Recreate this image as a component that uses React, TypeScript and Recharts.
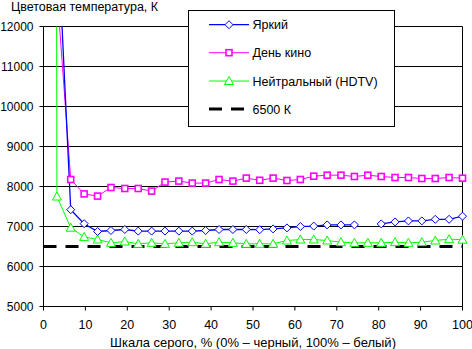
import { CartesianGrid, Legend, Line, LineChart, ReferenceLine, XAxis, YAxis } from "recharts";

const FONT = '"Liberation Sans", Arial, sans-serif';

// gray level, % (32 steps from black to white)
const grayLevels = [
  0, 3.2, 6.5, 9.7, 12.9, 16.1, 19.4, 22.6, 25.8, 29.0, 32.3, 35.5, 38.7, 41.9, 45.2, 48.4,
  51.6, 54.8, 58.1, 61.3, 64.5, 67.7, 71.0, 74.2, 77.4, 80.6, 83.9, 87.1, 90.3, 93.5, 96.8, 100,
];

// colour temperature, K (first points are far above the chart)
const brightTemps = [
  null, 14700, 7420, 7070, 6875, 6900, 6925, 6885, 6885, 6885, 6885, 6885, 6900, 6925, 6925, 6925,
  6920, 6940, 6965, 7000, 7010, 7040, 7040, 7040, null, 7065, 7115, 7140, 7140, 7180, 7180, 7258,
];
const cinemaTemps = [
  null, 12900, 8175, 7815, 7760, 7975, 7950, 7950, 7885, 8110, 8135, 8085, 8085, 8175, 8135, 8210,
  8155, 8210, 8150, 8175, 8258, 8283, 8283, 8250, 8283, 8250, 8225, 8225, 8200, 8200, 8225, 8208,
];
const neutralTemps = [
  200000, 7750, 6970, 6740, 6675, 6592, 6625, 6567, 6592, 6567, 6592, 6608, 6567, 6608, 6592, 6567,
  6567, 6567, 6650, 6675, 6675, 6650, 6608, 6592, 6592, 6592, 6608, 6592, 6608, 6650, 6683, 6670,
];

const xTicks = [0, 10, 20, 30, 40, 50, 60, 70, 80, 90, 100];
const yTicks = [5000, 6000, 7000, 8000, 9000, 10000, 11000, 12000];
const targetTemp = 6500;

const data = grayLevels.map((x, i) => ({
  x,
  bright: brightTemps[i],
  cinema: cinemaTemps[i],
  neutral: neutralTemps[i],
}));

function diamond(cx: number, cy: number) {
  return `M${cx},${cy - 4} L${cx + 4},${cy} L${cx},${cy + 4} L${cx - 4},${cy} Z`;
}

function triangle(cx: number, cy: number) {
  return `M${cx},${cy - 4.5} L${cx + 4.5},${cy + 3.5} L${cx - 4.5},${cy + 3.5} Z`;
}

function isMissing(props: any) {
  return props.cx == null || props.cy == null || Number.isNaN(props.cy) || props.value == null;
}

function DiamondDot(props: any) {
  const key = `d-${props.index}`;
  if (isMissing(props)) return <g key={key} />;
  return <path key={key} d={diamond(props.cx, props.cy)} fill="#fff" stroke="#0000ff" strokeWidth={1} />;
}

function SquareDot(props: any) {
  const key = `s-${props.index}`;
  if (isMissing(props)) return <g key={key} />;
  return (
    <rect key={key} x={props.cx - 3} y={props.cy - 3} width={6} height={6} fill="#fff" stroke="#ff00ff" strokeWidth={1.6} />
  );
}

function TriangleDot(props: any) {
  const key = `t-${props.index}`;
  if (isMissing(props)) return <g key={key} />;
  return <path key={key} d={triangle(props.cx, props.cy)} fill="#fff" stroke="#00ff00" strokeWidth={1} />;
}

function LegendBox() {
  const rows = [13.7, 41.7, 70, 98];
  return (
    <div
      style={{
        width: 207,
        height: 117,
        boxSizing: "border-box",
        border: "1px solid #000",
        background: "#fff",
      }}
    >
      <svg width={205} height={115} style={{ display: "block", fontFamily: FONT, fontSize: 12.5 }}>
        <line x1={20} x2={60} y1={rows[0]} y2={rows[0]} stroke="#0000ff" strokeWidth={1.3} />
        <path d={diamond(40, rows[0])} fill="#fff" stroke="#0000ff" />
        <text x={63.5} y={rows[0] + 4.5}>Яркий</text>

        <line x1={20} x2={60} y1={rows[1]} y2={rows[1]} stroke="#ff00ff" strokeWidth={1} />
        <rect x={37} y={rows[1] - 3} width={6} height={6} fill="#fff" stroke="#ff00ff" strokeWidth={1.6} />
        <text x={63.5} y={rows[1] + 4.5}>День кино</text>

        <line x1={20} x2={60} y1={rows[2]} y2={rows[2]} stroke="#00ff00" strokeWidth={1} />
        <path d={triangle(40, rows[2])} fill="#fff" stroke="#00ff00" />
        <text x={63.5} y={rows[2] + 4.5}>Нейтральный (HDTV)</text>

        <line x1={20} x2={56} y1={rows[3]} y2={rows[3]} stroke="#000" strokeWidth={3} strokeDasharray="13 9" />
        <text x={63.5} y={rows[3] + 4.5}>6500 К</text>
      </svg>
    </div>
  );
}

export default function App() {
  return (
    <div style={{ position: "absolute", left: 0, top: 0, width: 472, height: 349, background: "#fff" }}>
      <div
        style={{
          position: "absolute",
          left: 11,
          top: 0,
          fontFamily: FONT,
          fontSize: 12.5,
          lineHeight: "15px",
          color: "#000",
          whiteSpace: "nowrap",
        }}
      >
        Цветовая температура, К
      </div>
      <LineChart
        width={472}
        height={349}
        data={data}
        margin={{ top: 26.5, right: 9.5, left: 0, bottom: 0 }}
        style={{ fontFamily: FONT }}
      >
        <CartesianGrid vertical={false} stroke="#000" strokeWidth={1} />
        <XAxis
          type="number"
          dataKey="x"
          domain={[0, 100]}
          ticks={xTicks}
          height={42.5}
          stroke="#000"
          tickSize={4}
          tickMargin={10}
          tick={{ fill: "#000", fontSize: 12.5 }}
          label={{
            value: "Шкала серого, % (0% – черный, 100% – белый)",
            position: "insideBottom",
            offset: 2,
            fill: "#000",
            fontSize: 13,
          }}
        />
        <YAxis
          type="number"
          domain={[5000, 12000]}
          ticks={yTicks}
          allowDataOverflow
          width={43.5}
          stroke="#000"
          tickSize={4}
          tickMargin={6}
          tick={{ fill: "#000", fontSize: 12 }}
        />
        <ReferenceLine x={100} stroke="#000" strokeWidth={1} />
        <ReferenceLine y={targetTemp} stroke="#000" strokeWidth={3} strokeDasharray="13 9" />
        <Line
          dataKey="neutral"
          stroke="#00ff00"
          strokeWidth={1}
          dot={TriangleDot}
          activeDot={false}
          isAnimationActive={false}
        />
        <Line
          dataKey="cinema"
          stroke="#ff00ff"
          strokeWidth={1}
          dot={SquareDot}
          activeDot={false}
          isAnimationActive={false}
        />
        <Line
          dataKey="bright"
          stroke="#0000ff"
          strokeWidth={1.3}
          dot={DiamondDot}
          activeDot={false}
          isAnimationActive={false}
        />
        <Legend
          layout="vertical"
          align="center"
          verticalAlign="middle"
          content={() => <LegendBox />}
          wrapperStyle={{ left: 188, top: 10, width: 207, height: 117 }}
        />
      </LineChart>
    </div>
  );
}
